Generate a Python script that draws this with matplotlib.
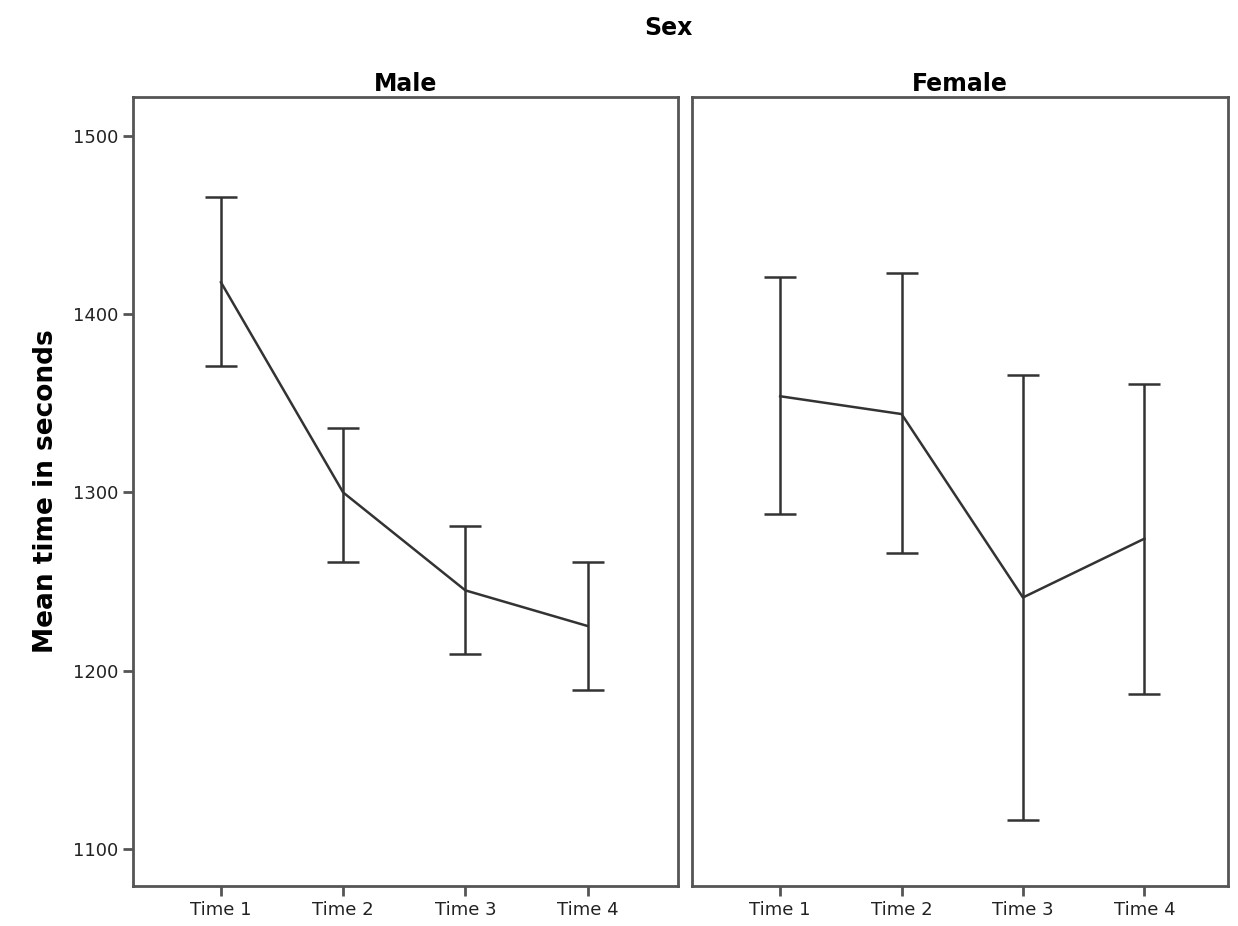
import matplotlib
matplotlib.use('Agg')
import matplotlib.pyplot as plt

# Mean time in seconds with error bar bounds
times = ['Time 1', 'Time 2', 'Time 3', 'Time 4']
male_mean = [1418, 1300, 1245, 1225]
male_low = [1371, 1261, 1209, 1189]
male_high = [1466, 1336, 1281, 1261]
female_mean = [1354, 1344, 1241, 1274]
female_low = [1288, 1266, 1116, 1187]
female_high = [1421, 1423, 1366, 1361]

line_col = '#333333'
frame_col = '#555555'

fig = plt.figure(figsize=(12.38, 9.26), dpi=100)
ax1 = fig.add_axes([0.1074, 0.0432, 0.4402, 0.852])
ax2 = fig.add_axes([0.559, 0.0432, 0.433, 0.852])

panels = [(ax1, 'Male', male_mean, male_low, male_high, (-0.72, 3.74)),
          (ax2, 'Female', female_mean, female_low, female_high, (-0.726, 3.69))]

for ax, name, mean, low, high, xl in panels:
    x = list(range(len(times)))
    err = [[m - l for m, l in zip(mean, low)], [h - m for m, h in zip(mean, high)]]
    ax.errorbar(x, mean, yerr=err, color=line_col, lw=1.8, elinewidth=1.8,
                capsize=11.5, capthick=1.8)
    ax.set_xlim(*xl)
    ax.set_ylim(1079, 1522)
    ax.set_xticks(x)
    ax.set_xticklabels(times, fontsize=13, color='#222222')
    ax.set_title(name, fontsize=17, fontweight='bold', pad=4)
    for s in ax.spines.values():
        s.set_color(frame_col)
        s.set_linewidth(2)
    ax.tick_params(axis='both', length=7, width=2, color=frame_col)

ax1.set_yticks([1100, 1200, 1300, 1400, 1500])
ax1.tick_params(axis='y', labelsize=13, labelcolor='#222222')
ax1.set_ylabel('Mean time in seconds', fontsize=19, fontweight='bold', labelpad=10)
ax2.set_yticks([])

fig.text(0.54, 0.97, 'Sex', ha='center', va='center', fontsize=17, fontweight='bold')

fig.savefig('out.png', dpi=100)
